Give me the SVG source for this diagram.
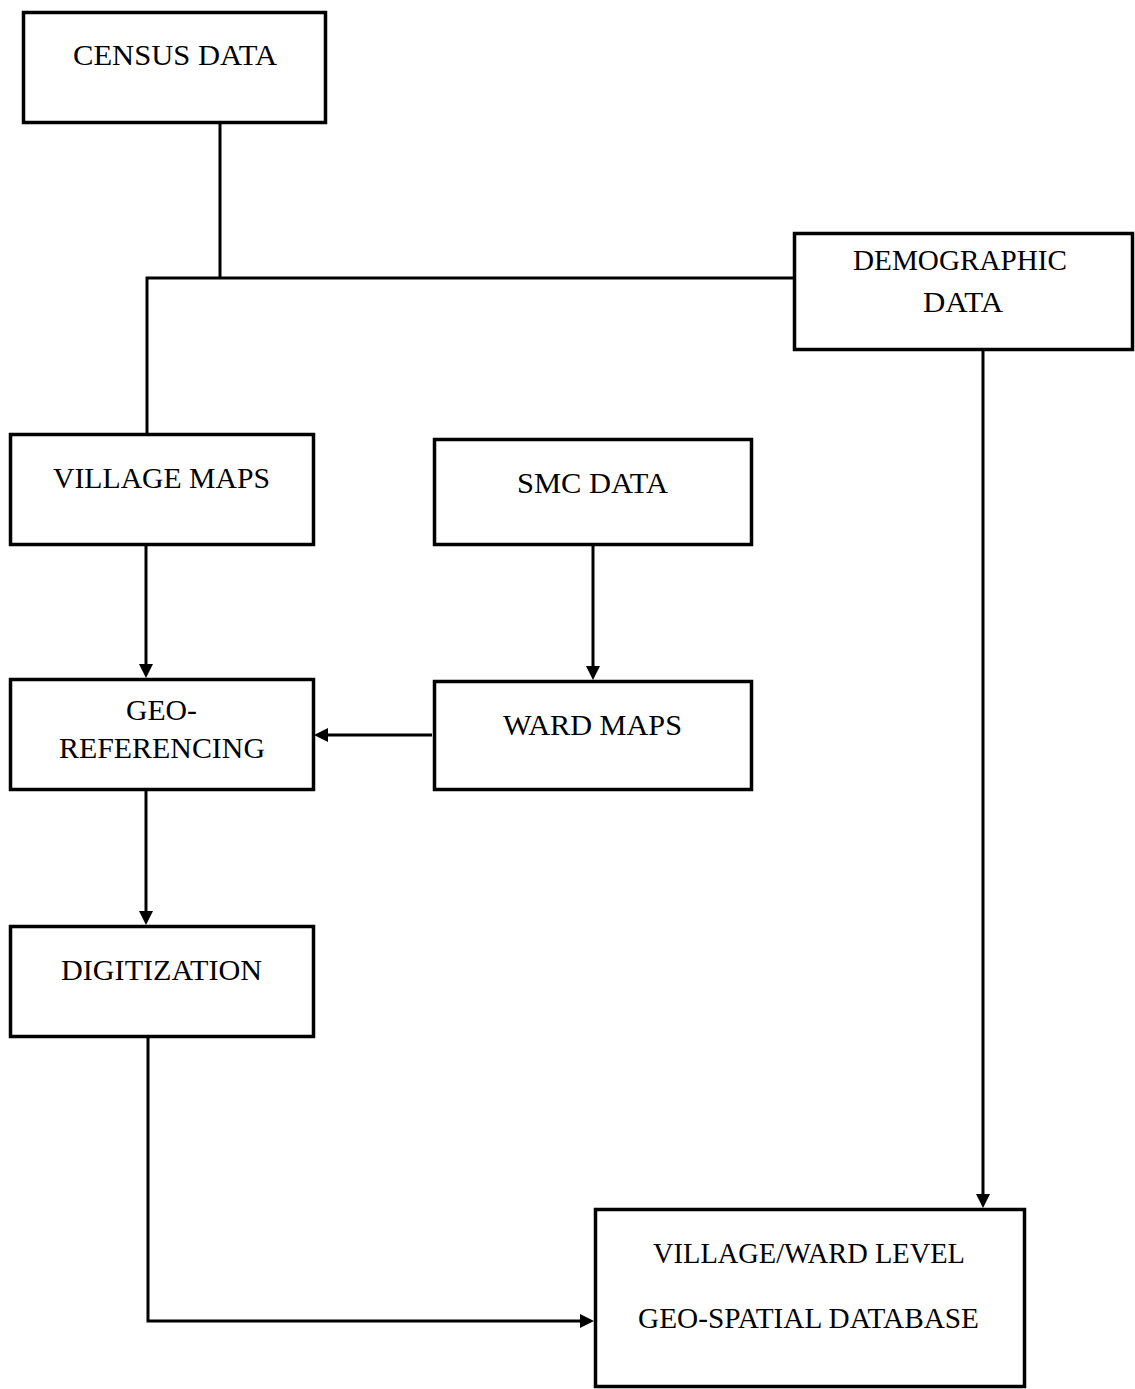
<svg xmlns="http://www.w3.org/2000/svg" width="1135" height="1389" viewBox="0 0 1135 1389">
  <style>
    .box { fill: #ffffff; stroke: #000000; stroke-width: 3.5; }
    .lbl { font-family: "Liberation Serif", "Times New Roman", serif; font-size: 28.5px; fill: #000000; text-anchor: middle; }
    .wire { fill: none; stroke: #000000; stroke-width: 3; }
  </style>
  <defs>
    <marker id="head" markerUnits="userSpaceOnUse" markerWidth="14" markerHeight="14" refX="10" refY="7" orient="auto">
      <path d="M0,0 L14,7 L0,14 z" fill="#000000"/>
    </marker>
  </defs>
  <rect x="0" y="0" width="1135" height="1389" fill="#ffffff"/>

  <g id="connectors">
    <path class="wire" d="M220,124 V278"/>
    <path class="wire" d="M147,433 V278 H794"/>
    <path class="wire" d="M146,546 V674" marker-end="url(#head)"/>
    <path class="wire" d="M593,546 V676" marker-end="url(#head)"/>
    <path class="wire" d="M432,735 H318" marker-end="url(#head)"/>
    <path class="wire" d="M146,791 V921" marker-end="url(#head)"/>
    <path class="wire" d="M148,1038 V1321 H590" marker-end="url(#head)"/>
    <path class="wire" d="M983,351 V1204" marker-end="url(#head)"/>
  </g>

  <g id="census-data">
    <rect class="box" x="23.5" y="12.5" width="302" height="110"/>
    <text class="lbl" x="175" y="65" textLength="204" lengthAdjust="spacingAndGlyphs">CENSUS DATA</text>
  </g>
  <g id="demographic-data">
    <rect class="box" x="794.5" y="233.5" width="338" height="116"/>
    <text class="lbl" x="960" y="270" textLength="214" lengthAdjust="spacingAndGlyphs">DEMOGRAPHIC</text>
    <text class="lbl" x="963" y="312" textLength="80" lengthAdjust="spacingAndGlyphs">DATA</text>
  </g>
  <g id="village-maps">
    <rect class="box" x="10.5" y="434.5" width="303" height="110"/>
    <text class="lbl" x="161.5" y="488" textLength="217" lengthAdjust="spacingAndGlyphs">VILLAGE MAPS</text>
  </g>
  <g id="smc-data">
    <rect class="box" x="434.5" y="439.5" width="317" height="105"/>
    <text class="lbl" x="592.5" y="493" textLength="151" lengthAdjust="spacingAndGlyphs">SMC DATA</text>
  </g>
  <g id="geo-referencing">
    <rect class="box" x="10.5" y="679.5" width="303" height="110"/>
    <text class="lbl" x="161.5" y="720" textLength="71" lengthAdjust="spacingAndGlyphs">GEO-</text>
    <text class="lbl" x="162" y="758" textLength="206" lengthAdjust="spacingAndGlyphs">REFERENCING</text>
  </g>
  <g id="ward-maps">
    <rect class="box" x="434.5" y="681.5" width="317" height="108"/>
    <text class="lbl" x="592.5" y="735" textLength="179" lengthAdjust="spacingAndGlyphs">WARD MAPS</text>
  </g>
  <g id="digitization">
    <rect class="box" x="10.5" y="926.5" width="303" height="110"/>
    <text class="lbl" x="161.5" y="980" textLength="201" lengthAdjust="spacingAndGlyphs">DIGITIZATION</text>
  </g>
  <g id="geo-spatial-database">
    <rect class="box" x="595.5" y="1209.5" width="429" height="177"/>
    <text class="lbl" x="809" y="1263" textLength="312" lengthAdjust="spacingAndGlyphs">VILLAGE/WARD LEVEL</text>
    <text class="lbl" x="808.5" y="1328" textLength="341" lengthAdjust="spacingAndGlyphs">GEO-SPATIAL DATABASE</text>
  </g>
</svg>
